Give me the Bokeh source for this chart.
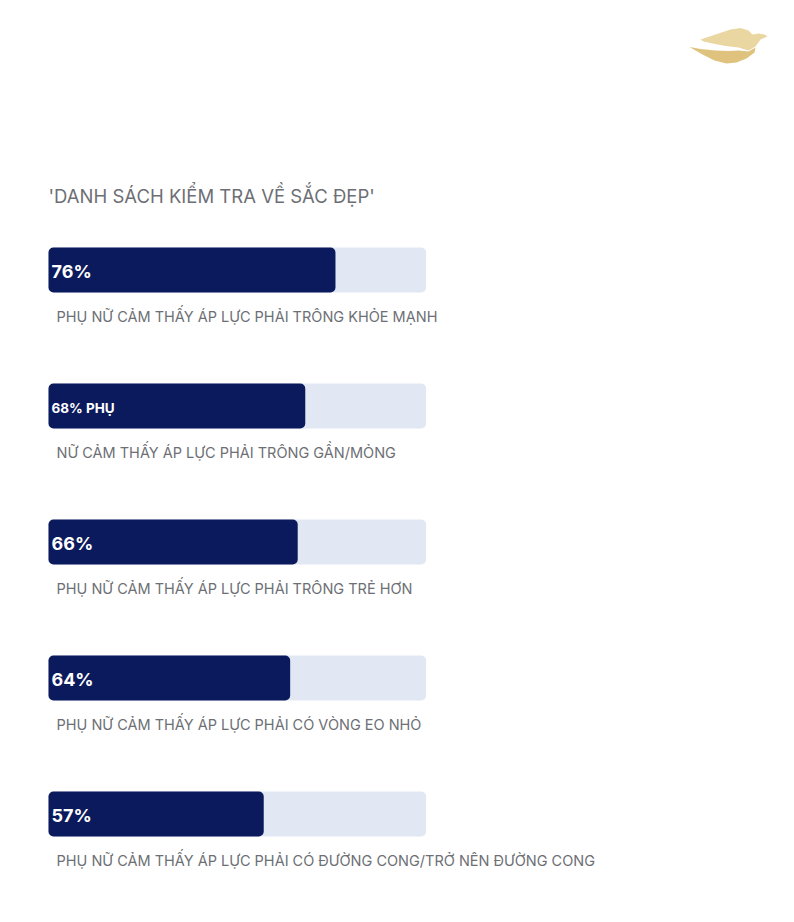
from bokeh.plotting import figure
from bokeh.models import ColumnDataSource, Range1d
from bokeh.core.properties import value
from bokeh.embed import file_html
from bokeh.resources import INLINE

# ---- data ----
title_text = "'DANH SÁCH KIỂM TRA VỀ SẮC ĐẸP'"
values = [76, 68, 66, 64, 57]
bar_labels = ["76%", "68% PHỤ", "66%", "64%", "57%"]
captions = [
    "PHỤ NỮ CẢM THẤY ÁP LỰC PHẢI TRÔNG KHỎE MẠNH",
    "NỮ CẢM THẤY ÁP LỰC PHẢI TRÔNG GẦN/MỎNG",
    "PHỤ NỮ CẢM THẤY ÁP LỰC PHẢI TRÔNG TRẺ HƠN",
    "PHỤ NỮ CẢM THẤY ÁP LỰC PHẢI CÓ VÒNG EO NHỎ",
    "PHỤ NỮ CẢM THẤY ÁP LỰC PHẢI CÓ ĐƯỜNG CONG/TRỞ NÊN ĐƯỜNG CONG",
]
label_sizes = ["18px", "13.5px", "18px", "18px", "18px"]

# ---- layout ----
W, H = 778, 906
ORG = 0                  # screen offset of the frame
PX_PER_UNIT = 3.776      # screen px per percent
X0 = 48                  # screen x of 0%
ROW = 136                # px between rows
Y0 = 269.5               # screen y of first row centre

def sx(px):
    return (px - X0) / PX_PER_UNIT

def sy(py):
    return (py - Y0) / ROW

idx = list(range(len(values)))
src = ColumnDataSource(dict(
    y=idx,
    val=values,
    full=[100] * len(values),
    lab=bar_labels,
    cap=captions,
    cap_y=[i + 46 / ROW for i in idx],
    lab_y=[i + 1.5 / ROW for i in idx],
    size=label_sizes,
))

p = figure(width=W, height=H, output_backend="svg", toolbar_location=None,
           x_range=Range1d(sx(ORG), sx(ORG + W)),
           y_range=Range1d(sy(ORG + H), sy(ORG)),
           min_border=0, outline_line_color=None)
p.axis.visible = False
p.grid.visible = False
p.background_fill_color = "white"
p.border_fill_color = "white"

FONT = value("Inter")
bh = 45 / ROW

p.hbar(y="y", left=0, right="full", height=bh, source=src,
       fill_color="#e1e8f3", line_color=None, border_radius=5)
p.hbar(y="y", left=0, right="val", height=bh, source=src,
       fill_color="#0b1a5c", line_color=None, border_radius=5)

p.text(x=sx(51), y="lab_y", text="lab", source=src, text_font=FONT,
       text_font_size="size", text_font_style="bold", text_color="white",
       text_baseline="middle", text_align="left")

p.text(x=sx(56), y="cap_y", text="cap", source=src, text_font=FONT,
       text_font_size="14.5px", text_color="#6d6f75",
       text_baseline="middle", text_align="left")

p.text(x=[sx(48)], y=[sy(195)], text=[title_text], text_font=FONT,
       text_font_size="18.5px", text_color="#6d6f75",
       text_baseline="middle", text_align="left")

# ---- dove logo (decoration) ----
upper = [(700, 39), (715, 34), (730, 29), (740, 27.5), (748, 30), (752, 34),
         (758, 33), (764, 34), (767, 36), (760, 39), (755, 46), (748, 50),
         (738, 47), (725, 45.5), (712, 43), (703, 41)]
lower = [(689, 46.5), (700, 48.5), (715, 50), (728, 50.5), (738, 50), (748, 51),
         (755, 47), (754, 52), (746, 58), (736, 62), (726, 63), (714, 60),
         (702, 54)]
for pts, col in ((upper, "#ead6a0"), (lower, "#dfc27d")):
    p.patch([sx(a) for a, b in pts], [sy(b) for a, b in pts],
            fill_color=col, line_color=None)

open("out.html", "w").write(file_html(p, INLINE))
